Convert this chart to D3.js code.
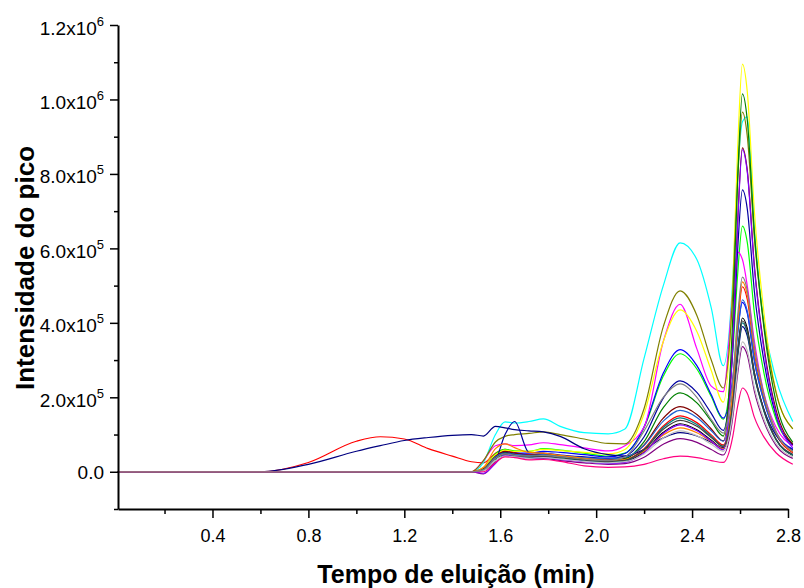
<!DOCTYPE html>
<html>
<head>
<meta charset="utf-8">
<script src="https://cdn.jsdelivr.net/npm/d3@7"></script>
<style>
  body { margin: 0; background: #fff; }
  text { font-family: Arial, "Liberation Sans", sans-serif; fill: #000; }
</style>
</head>
<body>
<div id="chart"></div>
<script>
// Chromatogram overlay - intensities in thousands of counts

var times = [0.005, 0.6, 0.8, 1.0, 1.1, 1.2, 1.3, 1.4, 1.48, 1.53, 1.58, 1.62, 1.66, 1.72, 1.78, 1.85, 1.95,
             2.05, 2.12, 2.2, 2.28, 2.35, 2.42, 2.48, 2.53, 2.57, 2.59, 2.61, 2.63, 2.66, 2.7, 2.75, 2.82];

var black      = [0,0,0,0,0,0,0,0,0, 8,40,52,46,40,42,37,30,25, 28,54,106,129,113,85,62, 185,325,413,386,266,165,87,44];
var red        = [0,0,25,82,94,88,62,42,27, 24,50,60,52,46,48,42,34,28, 32,62,123,150,132,99,72, 221,391,497,464,319,197,103,51];
var green      = [0,0,0,0,0,0,0,0,0, 10,48,60,56,55,62,58,50,42, 50,119,257,317,276,202,141, 323,530,660,617,425,264,141,73];
var blue       = [0,0,0,0,0,0,0,0,0, 6,42,55,50,50,55,52,46,40, 49,121,265,328,285,207,144, 253,377,455,426,297,189,106,61];
var cyan       = [0,0,0,0,0,0,0,0,0, 25,100,134,131,135,142,122,105,102, 115,305,500,615,570,440,285, 520,800,940,953,650,400,250,135];
var magenta    = [0,0,0,0,0,0,0,0,0, 30,70,75,70,72,78,73,64,56, 70,120,350,450,330,230,215, 480,590,570,500,350,210,120,70];
var yellow     = [0,0,0,0,0,0,0,0,0, 10,45,58,55,55,60,57,52,48, 60,156,350,435,377,272,187, 505,868,1095,1022,697,425,216,115];
var darkYellow = [0,0,0,0,0,0,0,0,0, 30,80,95,100,103,107,100,88,76, 75,170,390,486,420,300,225, 484,781,966,903,626,393,213,115];
var navy       = [0,0,20,55,70,84,92,98,100, 96,122,118,113,110,107,95,62,46, 42,60,91,105,96,79,65, 179,309,390,366,258,167,98,59];
var royal      = [0,0,0,0,0,0,0,0,0, 5,30,100,135,52,50,45,40,36, 42,94,198,244,213,157,111, 337,596,757,707,483,296,151,72];
var purple     = [0,0,0,0,0,0,0,0,0, -6,25,45,42,35,36,30,24,20, 22,39,74,89,79,60,45, 147,263,336,314,216,134,71,36];
var wine       = [0,0,0,0,0,0,0,0,0, 8,42,55,50,45,47,42,36,32, 36,72,144,175,154,115,83, 358,673,870,811,552,334,166,74];
var olive      = [0,0,0,0,0,0,0,0,0, 6,38,50,46,42,45,40,34,30, 35,81,172,212,185,136,96, 418,785,1015,946,641,385,188,79];
var darkCyan   = [0,0,0,0,0,0,0,0,0, 5,35,46,42,38,40,36,30,26, 30,59,119,145,127,95,69, 185,317,400,374,258,161,86,45];
var steelBlue  = [0,0,0,0,0,0,0,0,0, 6,40,50,47,44,46,42,38,35, 39,71,136,165,146,110,82, 215,367,462,432,300,189,103,56];
var orange     = [0,0,0,0,0,0,0,0,0, 12,62,75,65,52,50,44,36,30, 33,55,99,118,105,81,62, 219,398,510,476,328,203,107,54];
var violet     = [0,0,0,0,0,0,0,0,0, -4,22,45,43,36,38,33,27,22, 25,51,103,126,110,82,59, 341,664,865,806,545,325,157,64];
var darkGray   = [0,0,0,0,0,0,0,0,0, 5,36,48,44,40,42,38,32,28, 31,59,114,138,122,92,68, 186,321,405,379,262,164,88,47];
var ltGray     = [0,0,0,0,0,0,0,0,0, 3,30,42,40,36,38,34,28,24, 27,48,91,110,97,74,55, 158,275,349,326,226,141,76,40];
var gray       = [0,0,0,0,0,0,0,0,0, 5,36,48,44,42,44,40,34,30, 40,110,200,236,200,140,104, 251,418,523,488,336,207,109,55];
var pink       = [0,0,0,0,0,0,0,0,0, 0,25,40,38,32,33,28,16,12, 13,20,35,42,38,30,25, 96,176,225,211,146,93,51,20];

var xMajor = [0.4, 0.8, 1.2, 1.6, 2.0, 2.4, 2.8];
var xMinor = [0.2, 0.6, 1.0, 1.4, 1.8, 2.2, 2.6];
var yMajor = [0, 200, 400, 600, 800, 1000, 1200];
var yMinor = [-100, 100, 300, 500, 700, 900, 1100];
var yMantissa = ["0.0", "2.0x10", "4.0x10", "6.0x10", "8.0x10", "1.0x10", "1.2x10"];
var yExponent = ["", "5", "5", "5", "5", "6", "6"];

var series = [
    {values: black,      color: "#000000"},
    {values: red,        color: "#FF0000"},
    {values: green,      color: "#00FF00"},
    {values: blue,       color: "#0000FF"},
    {values: cyan,       color: "#00FFFF"},
    {values: magenta,    color: "#FF00FF"},
    {values: yellow,     color: "#FFFF00"},
    {values: darkYellow, color: "#808000"},
    {values: navy,       color: "#000080"},
    {values: royal,      color: "#0000A0"},
    {values: purple,     color: "#800080"},
    {values: wine,       color: "#800000"},
    {values: olive,      color: "#008000"},
    {values: darkCyan,   color: "#008080"},
    {values: steelBlue,  color: "#1F5FD0"},
    {values: orange,     color: "#FF8000"},
    {values: violet,     color: "#8000FF"},
    {values: darkGray,   color: "#404040"},
    {values: ltGray,     color: "#C0C0C0"},
    {values: pink,       color: "#FF0080"},
    {values: gray,       color: "#808080"}
];

var svg = d3.select("#chart")
    .append("svg")
        .attr("width", 804)
        .attr("height", 588);

var x = d3.scaleLinear()
    .domain([0.006, 2.8])
    .range([118, 788]);

var y = d3.scaleLinear()
    .domain([-100, 1200])
    .range([509, 25]);

var line = d3.line()
    .x(function(d, i) { return x(times[i]); })
    .y(function(d) { return y(d); })
    .curve(d3.curveMonotoneX);

// Traces
svg.selectAll("path.trace")
    .data(series)
    .enter().append("path")
        .attr("class", "trace")
        .attr("d", function(d) { return line(d.values); })
        .attr("fill", "none")
        .attr("stroke", function(d) { return d.color; })
        .attr("stroke-width", 1.2);

// X axis
var gx = svg.append("g")
    .attr("transform", "translate(0,509)")
    .call(d3.axisBottom(x).tickValues(xMajor).tickSize(9).tickSizeOuter(0).tickFormat(d3.format(".1f")));
gx.select(".domain").attr("stroke-width", 2);
gx.selectAll(".tick line").attr("stroke-width", 1.5);
gx.selectAll(".tick text")
    .attr("y", 20)
    .style("font-size", "18px")
    .style("font-family", "Arial, 'Liberation Sans', sans-serif");

var gxm = svg.append("g")
    .attr("transform", "translate(0,509)")
    .call(d3.axisBottom(x).tickValues(xMinor).tickSize(5).tickFormat(""));
gxm.select(".domain").remove();
gxm.selectAll(".tick line").attr("stroke-width", 1.5);

// Y axis
var gy = svg.append("g")
    .attr("transform", "translate(118,0)")
    .call(d3.axisLeft(y).tickValues(yMajor).tickSize(8).tickSizeOuter(0).tickFormat(""));
gy.select(".domain").attr("stroke-width", 2);
gy.selectAll(".tick line").attr("stroke-width", 1.5);

var gym = svg.append("g")
    .attr("transform", "translate(118,0)")
    .call(d3.axisLeft(y).tickValues(yMinor).tickSize(4).tickFormat(""));
gym.select(".domain").remove();
gym.selectAll(".tick line").attr("stroke-width", 1.5);

// Y tick labels with superscript exponents
var yLabels = svg.append("g").selectAll("text")
    .data(yMajor)
    .enter().append("text")
        .attr("x", 104)
        .attr("y", function(d) { return y(d) + (d === 0 ? 7 : 9.5); })
        .attr("text-anchor", "end")
        .style("font-size", "19px");

yLabels.append("tspan")
    .text(function(d, i) { return yMantissa[i]; });
yLabels.append("tspan")
    .attr("dy", -9)
    .style("font-size", "13px")
    .text(function(d, i) { return yExponent[i]; });

// Axis titles
svg.append("text")
    .attr("x", 456)
    .attr("y", 583)
    .attr("text-anchor", "middle")
    .style("font-size", "25px")
    .style("font-weight", "bold")
    .text("Tempo de eluição (min)");

svg.append("text")
    .attr("transform", "translate(34,268)rotate(-90)")
    .attr("text-anchor", "middle")
    .style("font-size", "26px")
    .style("font-weight", "bold")
    .text("Intensidade do pico");
</script>
</body>
</html>
